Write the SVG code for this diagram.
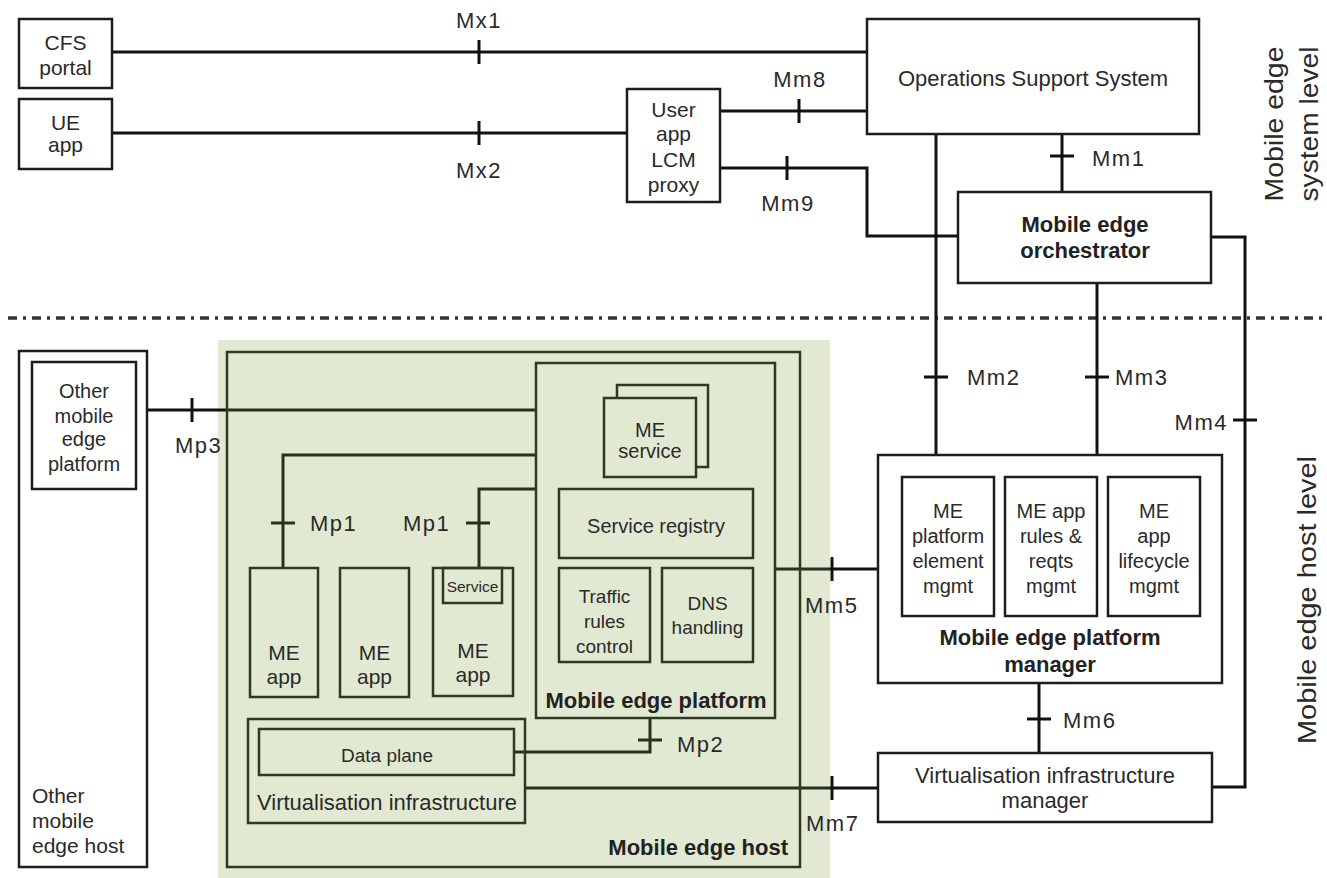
<svg xmlns="http://www.w3.org/2000/svg" width="1327" height="878" viewBox="0 0 1327 878">
  <defs>
    <style>
      .box{fill:#fff;stroke:#1c1c1c;stroke-width:2.5}
      .gbox{fill:none;stroke:#2e3924;stroke-width:2.5}
      .gfill{fill:#e1e9d2;stroke:#2e3924;stroke-width:2.5}
      .ln{fill:none;stroke:#111;stroke-width:3}
      .gln{fill:none;stroke:#27301d;stroke-width:3}
      .sep{fill:none;stroke:#333;stroke-width:3.5;stroke-dasharray:9 6 3 6}
      text{font-family:"Liberation Sans",Arial,sans-serif;fill:#2a2a2a}
      .t{font-size:21px;text-anchor:middle}
      .s{font-size:20px;text-anchor:middle}
      .m{font-size:19px;text-anchor:middle}
      .l{font-size:22px;text-anchor:middle}
      .b{font-size:22px;font-weight:bold;text-anchor:middle;fill:#222}
      .lbl{font-size:22px;letter-spacing:1.5px}
      .side{font-size:25px;text-anchor:middle}
    </style>
  </defs>

  <rect width="1327" height="878" fill="#fff"/>

  <!-- host-level shaded area -->
  <rect x="218" y="340" width="612" height="538" fill="#e1e9d2"/>

  <!-- system / host level separator -->
  <line class="sep" x1="8" y1="318" x2="1327" y2="318"/>

  <!-- level captions -->
  <g id="level-captions">
    <text class="side" transform="translate(1283,124) rotate(-90)" textLength="155" lengthAdjust="spacingAndGlyphs">Mobile edge</text>
    <text class="side" transform="translate(1318,124) rotate(-90)" textLength="155" lengthAdjust="spacingAndGlyphs">system level</text>
    <text class="side" transform="translate(1316,600) rotate(-90)" textLength="288" lengthAdjust="spacingAndGlyphs">Mobile edge host level</text>
  </g>

  <!-- reference points and interfaces -->
  <g id="connectors">
    <path class="ln" d="M112 52H867"/>
    <path class="ln" d="M479 40V64"/>
    <path class="ln" d="M112 133H627"/>
    <path class="ln" d="M479 121V145"/>
    <path class="ln" d="M720 111H867"/>
    <path class="ln" d="M799 99V123"/>
    <path class="ln" d="M720 168H867V236H958"/>
    <path class="ln" d="M787 156V180"/>
    <path class="ln" d="M1062 134V192"/>
    <path class="ln" d="M1050 156H1074"/>
    <path class="ln" d="M936 134V455"/>
    <path class="ln" d="M924 377H948"/>
    <path class="ln" d="M1097 283V455"/>
    <path class="ln" d="M1085 377H1109"/>
    <path class="ln" d="M1211 237H1245V787H1212"/>
    <path class="ln" d="M1233 420H1257"/>
    <path class="ln" d="M1039 683V753"/>
    <path class="ln" d="M1027 719H1051"/>
    <path class="ln" d="M136 410H227"/>
    <path class="ln" d="M192 398V422"/>
    <path class="gln" d="M227 410H537"/>
    <path class="gln" d="M537 455H283V568"/>
    <path class="gln" d="M271 523H295"/>
    <path class="gln" d="M537 489H479V568"/>
    <path class="gln" d="M466 523H490"/>
    <path class="gln" d="M514 752H650V718"/>
    <path class="gln" d="M638 740H662"/>
    <path class="gln" d="M775 569H830"/>
    <path class="ln" d="M830 569H878"/>
    <path class="ln" d="M832 557V581"/>
    <path class="gln" d="M525 788H830"/>
    <path class="ln" d="M830 788H878"/>
    <path class="ln" d="M832 776V800"/>

    <text class="lbl" x="479" y="28" text-anchor="middle">Mx1</text>
    <text class="lbl" x="479" y="178" text-anchor="middle">Mx2</text>
    <text class="lbl" x="800" y="87" text-anchor="middle">Mm8</text>
    <text class="lbl" x="788" y="211" text-anchor="middle">Mm9</text>
    <text class="lbl" x="1092" y="166">Mm1</text>
    <text class="lbl" x="967" y="385">Mm2</text>
    <text class="lbl" x="1115" y="385">Mm3</text>
    <text class="lbl" x="1228" y="430" text-anchor="end">Mm4</text>
    <text class="lbl" x="805" y="613">Mm5</text>
    <text class="lbl" x="1063" y="728">Mm6</text>
    <text class="lbl" x="806" y="831">Mm7</text>
    <text class="lbl" x="175" y="453">Mp3</text>
    <text class="lbl" x="310" y="531">Mp1</text>
    <text class="lbl" x="403" y="531">Mp1</text>
    <text class="lbl" x="677" y="752">Mp2</text>
  </g>

  <g id="cfs-portal">
    <rect class="box" x="19" y="19" width="93" height="69"/>
    <text class="t" x="65.5" y="50">CFS</text>
    <text class="t" x="65.5" y="75">portal</text>
  </g>

  <g id="ue-app">
    <rect class="box" x="19" y="99" width="93" height="70"/>
    <text class="t" x="65.5" y="130">UE</text>
    <text class="t" x="65.5" y="152">app</text>
  </g>

  <g id="lcm-proxy">
    <rect class="box" x="627" y="89" width="93" height="113"/>
    <text class="t" x="673.5" y="117">User</text>
    <text class="t" x="673.5" y="141">app</text>
    <text class="t" x="673.5" y="167">LCM</text>
    <text class="t" x="673.5" y="192">proxy</text>
  </g>

  <g id="oss">
    <rect class="box" x="867" y="19" width="332" height="115"/>
    <text class="l" x="1033" y="86">Operations Support System</text>
  </g>

  <g id="orchestrator">
    <rect class="box" x="958" y="192" width="253" height="91"/>
    <text class="b" x="1085" y="232">Mobile edge</text>
    <text class="b" x="1085" y="258">orchestrator</text>
  </g>

  <g id="other-host">
    <rect class="box" x="19" y="351" width="128" height="516"/>
    <text class="t" x="32" y="803" text-anchor="start" style="text-anchor:start">Other</text>
    <text class="t" x="32" y="828" style="text-anchor:start">mobile</text>
    <text class="t" x="32" y="853" style="text-anchor:start">edge host</text>
  </g>

  <g id="other-platform">
    <rect class="box" x="32" y="362" width="104" height="127"/>
    <text class="s" x="84" y="398">Other</text>
    <text class="s" x="84" y="423">mobile</text>
    <text class="s" x="84" y="446">edge</text>
    <text class="s" x="84" y="471">platform</text>
  </g>

  <g id="me-host">
    <rect class="gbox" x="227" y="352" width="573" height="515"/>
    <text class="b" x="788" y="855" style="text-anchor:end">Mobile edge host</text>
  </g>

  <g id="me-platform">
    <rect class="gbox" x="536" y="363" width="239" height="355"/>
    <text class="b" x="656" y="708">Mobile edge platform</text>
  </g>

  <g id="me-service">
    <rect class="gfill" x="617" y="385" width="91" height="82"/>
    <rect class="gfill" x="604" y="398" width="92" height="79"/>
    <text class="s" x="650" y="437">ME</text>
    <text class="s" x="650" y="458">service</text>
  </g>

  <g id="service-registry">
    <rect class="gbox" x="559" y="489" width="194" height="69"/>
    <text class="s" x="656" y="533">Service registry</text>
  </g>

  <g id="traffic-rules">
    <rect class="gbox" x="559" y="568" width="91" height="94"/>
    <text class="m" x="604.5" y="603">Traffic</text>
    <text class="m" x="604.5" y="628">rules</text>
    <text class="m" x="604.5" y="653">control</text>
  </g>

  <g id="dns-handling">
    <rect class="gbox" x="662" y="568" width="91" height="94"/>
    <text class="m" x="707.5" y="610">DNS</text>
    <text class="m" x="707.5" y="634">handling</text>
  </g>

  <g id="me-app-1">
    <rect class="gbox" x="250" y="568" width="68" height="129"/>
    <text class="t" x="284" y="660">ME</text>
    <text class="t" x="284" y="684">app</text>
  </g>

  <g id="me-app-2">
    <rect class="gbox" x="340" y="568" width="69" height="129"/>
    <text class="t" x="374.5" y="660">ME</text>
    <text class="t" x="374.5" y="684">app</text>
  </g>

  <g id="me-app-3">
    <rect class="gbox" x="433" y="568" width="80" height="128"/>
    <rect class="gbox" x="443" y="568" width="59" height="35"/>
    <text x="472.5" y="592" style="font-size:15.5px;text-anchor:middle">Service</text>
    <text class="t" x="473" y="658">ME</text>
    <text class="t" x="473" y="682">app</text>
  </g>

  <g id="virt-infra">
    <rect class="gbox" x="248" y="719" width="277" height="104"/>
    <text class="l" x="387" y="810">Virtualisation infrastructure</text>
  </g>

  <g id="data-plane">
    <rect class="gbox" x="259" y="729" width="255" height="46"/>
    <text class="m" x="387" y="762">Data plane</text>
  </g>

  <g id="platform-manager">
    <rect class="box" x="878" y="455" width="344" height="228"/>
    <rect class="box" x="902" y="477" width="92" height="139"/>
    <rect class="box" x="1005" y="477" width="92" height="139"/>
    <rect class="box" x="1108" y="477" width="92" height="139"/>
    <text class="s" x="948" y="518">ME</text>
    <text class="s" x="948" y="543">platform</text>
    <text class="s" x="948" y="568">element</text>
    <text class="s" x="948" y="593">mgmt</text>
    <text class="s" x="1051" y="518">ME app</text>
    <text class="s" x="1051" y="543">rules &amp;</text>
    <text class="s" x="1051" y="568">reqts</text>
    <text class="s" x="1051" y="593">mgmt</text>
    <text class="s" x="1154" y="518">ME</text>
    <text class="s" x="1154" y="543">app</text>
    <text class="s" x="1154" y="568">lifecycle</text>
    <text class="s" x="1154" y="593">mgmt</text>
    <text class="b" x="1050" y="645">Mobile edge platform</text>
    <text class="b" x="1050" y="672">manager</text>
  </g>

  <g id="vim">
    <rect class="box" x="878" y="753" width="334" height="69"/>
    <text class="l" x="1045" y="783">Virtualisation infrastructure</text>
    <text class="l" x="1045" y="808">manager</text>
  </g>
</svg>
